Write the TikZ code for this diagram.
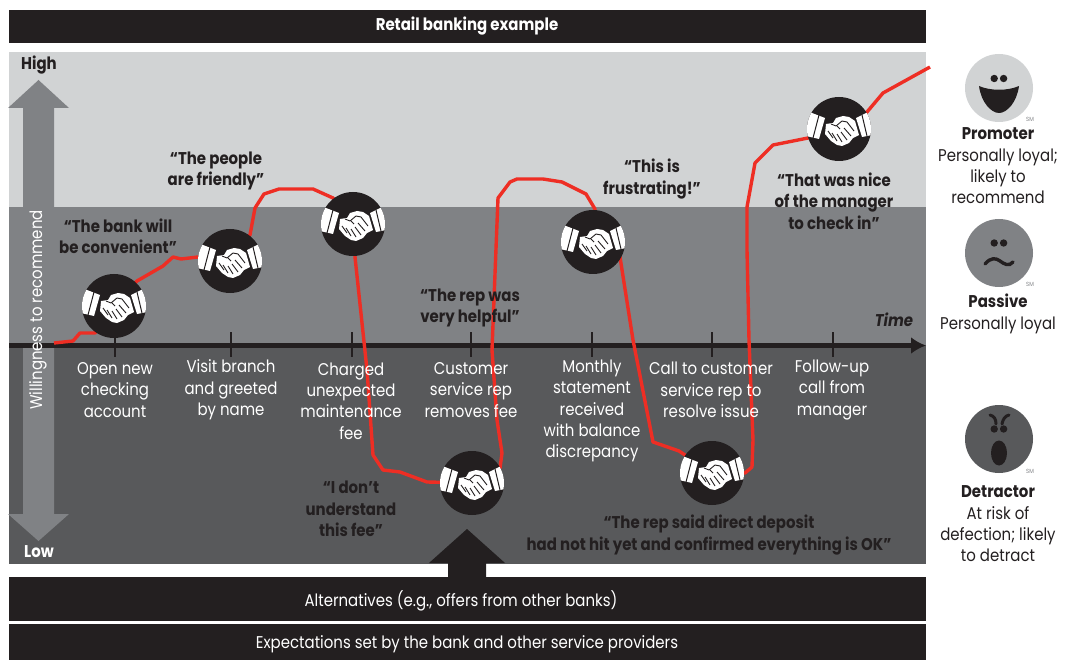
\documentclass[tikz,border=0pt]{standalone}
\usepackage{fontspec}
\setmainfont{Poppins}[FakeStretch=0.88]
\usetikzlibrary{arrows.meta}
\definecolor{inkblack}{HTML}{231F20}
\definecolor{palegray}{HTML}{D1D3D4}
\definecolor{midgray}{HTML}{808285}
\definecolor{darkgray}{HTML}{58595B}
\definecolor{lineread}{HTML}{EE2E24}
\tikzset{
  bar/.style={fill=inkblack},
  bartext/.style={text=white,font=\fontsize{17}{20}\selectfont},
  steplabel/.style={text=white,align=center,font=\fontsize{17}{21.3}\selectfont},
  quotelabel/.style={text=inkblack,align=center,font=\fontsize{17}{21.3}\selectfont\bfseries},
  sidelabel/.style={text=inkblack,align=center,font=\fontsize{17}{21.3}\selectfont},
  smmark/.style={text=midgray,font=\fontsize{6}{6}\selectfont},
  journey/.style={draw=lineread,line width=3.4pt,line join=round},
  handshake/.pic={
    \fill[inkblack] (0,0) circle (32pt);
    \begin{scope}
      \clip (0,0) circle (32pt);
      \fill[white] (-33,-17)--(-27,-16)--(-14,-11)--(-20,10)--(-33,7)--cycle;
      \fill[white] (33,-18)--(27,-16)--(17,-11)--(23,8)--(33,6)--cycle;
      \draw[inkblack,line width=1pt] (-20,-14)--(-26,9);
      \draw[inkblack,line width=1pt] (23,-14)--(28,7);
    \end{scope}
    \fill[white] (-13,-5)--(-6,-6)--(-3,-11)--(4,-13)--(10,-12)--(16,-8)--(20,6)--(14,9)--(10,14)--(3,17)--(-2,16)--(-8,12)--(-14,5)--cycle;
    \draw[inkblack,line width=.9pt,line join=round] (-8,-5)--(-3,-3)--(3,-8)--(8,-7)--(15,2);
    \draw[inkblack,line width=.9pt] (-2,-3)--(1,0);
    \draw[inkblack,line width=.9pt] (5,-1)--(12,7);
    \draw[inkblack,line width=.9pt] (2,3)--(8,11);
    \draw[inkblack,line width=.9pt] (-2,5)--(3,13);
    \draw[inkblack,line width=.9pt] (-7,4)--(-2,12);
    \draw[inkblack,line width=.9pt] (-11,2)--(-6,9);
  },
  faceeyes/.pic={
    \fill[inkblack] (-4.8,0) circle (3.7pt);
    \fill[inkblack] (4.6,0) circle (3.7pt);
  }
}
\begin{document}
\begin{tikzpicture}[x=1pt,y=-1pt]
\useasboundingbox (0,0) rectangle (1065,660);
\fill[palegray] (9,52) rectangle (926,207);
\fill[midgray] (9,207.5) rectangle (926,345);
\fill[darkgray] (9,345) rectangle (926,563.5);
\fill[bar] (9,10) rectangle (926,43);
\fill[bar] (9,577) rectangle (926,620.5);
\fill[bar] (9,624) rectangle (926,660);
\fill[inkblack] (467,529)--(505,563)--(486,563)--(486,578)--(448,578)--(448,563)--(429,563)--cycle;
\fill[midgray] (38.5,80)--(69,108)--(54,108)--(54,514)--(69,514)--(38.5,541)--(8,514)--(23,514)--(23,108)--(8,108)--cycle;
% axis and ticks
\coordinate (axisstart) at (9,345.5);
\coordinate (axisend) at (926,345.5);
\draw[inkblack,line width=5pt,-{Latex[length=15pt,width=17pt]}] (axisstart)--(axisend);
\foreach \tickx in {115,231,352,471,592,712,833}
  \draw[inkblack,line width=2.4pt] (\tickx,332)--(\tickx,357);
% journey
\coordinate (shake1) at (114,306);
\coordinate (shake2) at (230,261);
\coordinate (shake3) at (353,224);
\coordinate (shake4) at (472,483);
\coordinate (shake5) at (593,242);
\coordinate (shake6) at (712,473);
\coordinate (shake7) at (839,129);
\coordinate (journeystart) at (54,343);
\coordinate (journeyend) at (930,67);
\draw[journey] (journeystart)--(73,341)--(80,333)--(95,333)--(shake1)--(137,281)--(163,266)--(173,257)--(181,259)--(198,257)--(shake2)--(250,235)--(255,208)--(264,194)--(279,189)--(313,189)--(333,198)--(shake3)--(355,257)--(367,370)--(373,455)--(383,470)--(400,472)--(427,482)--(shake4)--(500,468)--(502,453)--(497,420)--(492,350)--(498,198)--(510,182)--(517,179)--(543,179)--(562,182)--(586,194)--(595,209)--(shake5)--(620,257)--(633,340)--(653,442)--(679,451)--(shake6)--(745,473)--(752,467)--(753,440)--(749,340)--(747,250)--(747,207)--(755,163)--(773,145)--(808,138)--(shake7)--(867,112)--(883,93)--(journeyend);
\foreach \shake in {shake1,shake2,shake3,shake4,shake5,shake6,shake7}
  \pic at (\shake) {handshake};
% text
\node[bartext,font=\fontsize{17}{20}\selectfont\bfseries] (title) at (467,26) {Retail banking example};
\node[bartext] (alternatives) at (461,601) {Alternatives (e.g., offers from other banks)};
\node[bartext] (expectations) at (467,644) {Expectations set by the bank and other service providers};
\node[quotelabel,text=inkblack] (high) at (39,65) {High};
\node[quotelabel,text=white] (low) at (39,552) {Low};
\node[steplabel,rotate=90] (ylabel) at (38,310) {Willingness to recommend};
\node[quotelabel,font=\fontsize{17}{20}\selectfont\bfseries\itshape] (time) at (894,320) {Time};
\node[steplabel] (step1) at (115,390) {Open new\\checking\\account};
\node[steplabel] (step2) at (231,390) {Visit branch\\and greeted\\by name};
\node[steplabel] (step3) at (351,401) {Charged\\unexpected\\maintenance\\fee};
\node[steplabel] (step4) at (471,390) {Customer\\service rep\\removes fee};
\node[steplabel] (step5) at (592,411) {Monthly\\statement\\received\\with balance\\discrepancy};
\node[steplabel] (step6) at (711,390) {Call to customer\\service rep to\\resolve issue};
\node[steplabel] (step7) at (832,390) {Follow-up\\call from\\manager};
\node[quotelabel] (quote1) at (118,236) {“The bank will\\be convenient”};
\node[quotelabel] (quote2) at (216,171) {“The people\\are friendly”};
\node[quotelabel] (quote3) at (351,509) {“I don’t\\understand\\this fee”};
\node[quotelabel] (quote4) at (470,308) {“The rep was\\very helpful”};
\node[quotelabel] (quote5) at (652,179) {“This is\\frustrating!”};
\node[quotelabel] (quote6) at (709,535) {“The rep said direct deposit\\had not hit yet and confirmed everything is OK”};
\node[quotelabel] (quote7) at (834,201) {“That was nice\\of the manager\\to check in”};
% faces
\fill[palegray] (999,88) circle (34pt);
\pic at (999,78.5) {faceeyes};
\fill[inkblack] (979,86) .. controls (990,91) and (1008,91) .. (1019,86) .. controls (1017,102) and (1007,113) .. (999,113) .. controls (991,113) and (981,102) .. (979,86) -- cycle;
\node[smmark] (smone) at (1030,119) {SM};
\fill[midgray] (999,253) circle (34pt);
\pic at (999,243) {faceeyes};
\draw[inkblack,line width=3.4pt,line cap=round] (985,264) .. controls (991,257) and (996,258) .. (1000,261) .. controls (1004,264) and (1009,267) .. (1013,262);
\node[smmark] (smtwo) at (1030,284) {SM};
\fill[darkgray] (999,439) circle (34pt);
\pic at (999,429) {faceeyes};
\draw[inkblack,line width=3pt,line cap=round] (990,415) .. controls (994,416) and (996,419) .. (996,424);
\draw[inkblack,line width=3pt,line cap=round] (1009,415) .. controls (1005,416) and (1003,419) .. (1002,424);
\fill[inkblack] (999,453) ellipse (8pt and 12.5pt);
\node[smmark] (smthree) at (1030,471) {SM};
\node[sidelabel] (promoter) at (998,166) {\textbf{Promoter}\\Personally loyal;\\likely to\\recommend};
\node[sidelabel] (passive) at (998,314) {\textbf{Passive}\\Personally loyal};
\node[sidelabel] (detractor) at (998,524) {\textbf{Detractor}\\At risk of\\defection; likely\\to detract};
\end{tikzpicture}
\end{document}
